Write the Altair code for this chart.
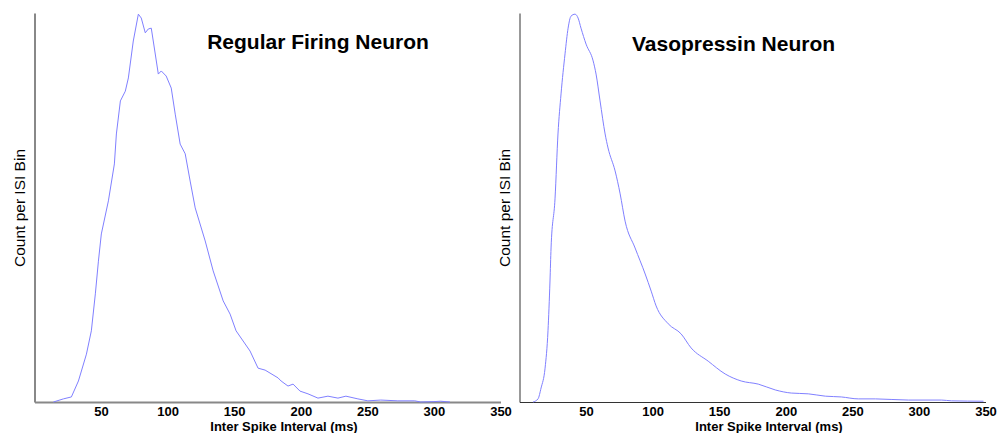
import altair as alt
import pandas as pd

# Regular firing neuron ISI histogram (ms, relative count)
reg_x = [14.2, 21.7, 27.7, 33.0, 39.0, 42.7, 45.7, 48.0, 50.2, 55.5, 60.0, 61.5, 64.5, 68.2, 70.5,
         74.2, 78.0, 80.2, 83.2, 85.5, 87.7, 90.0, 93.0, 95.2, 98.9, 102.7, 105.7, 109.4, 113.2,
         116.9, 120.7, 128.2, 134.2, 141.7, 146.9, 151.4, 161.9, 167.9, 173.2, 182.9, 185.2,
         190.4, 194.2, 199.4, 205.4, 212.9, 220.4, 227.9, 233.9, 242.9, 250.4, 260.1, 272.9,
         285.6, 290.1, 300.0, 305.0, 312.0]
reg_y = [0.0, 0.8, 1.3, 5.4, 12.3, 18.3, 27.8, 36.2, 43.2, 51.7, 61.2, 68.9, 77.4, 79.9, 83.3,
         92.8, 99.7, 98.7, 94.9, 95.9, 96.1, 91.0, 84.3, 85.1, 83.8, 80.7, 74.0, 66.3, 63.8,
         56.8, 49.9, 41.4, 33.7, 26.0, 22.6, 18.3, 13.1, 8.7, 8.2, 6.2, 5.4,
         4.1, 4.6, 2.8, 2.1, 1.0, 1.5, 1.0, 1.5, 0.8, 0.3, 0.5, 0.3,
         0.3, 0.0, 0.1, 0.2, 0.0]

# Vasopressin neuron ISI histogram
vp_x = [10.2, 13.9, 16.2, 19.2, 21.4, 22.9, 23.7, 26.7, 28.9, 31.2, 34.2, 36.5, 38.7, 41.7, 44.0,
        46.2, 50.0, 55.3, 57.5, 60.5, 64.3, 66.5, 71.8, 75.6, 79.3, 86.8, 94.4, 98.9, 102.6,
        111.7, 121.4, 128.9, 141.7, 154.5, 166.5, 179.3, 192.1, 204.1, 216.9, 229.7, 241.7,
        254.5, 267.3, 292.1, 316.9, 324.4, 348.5]
vp_y = [0.0, 0.8, 3.6, 8.7, 18.3, 31.1, 39.6, 52.4, 68.9, 79.2, 89.5, 96.1, 99.2, 99.7, 98.7,
        96.1, 92.0, 87.7, 84.3, 77.4, 68.9, 65.3, 59.4, 53.5, 46.5, 39.6, 32.9, 28.5, 24.7,
        20.1, 17.5, 13.9, 10.5, 7.2, 5.4, 4.6, 3.1, 2.3, 2.1, 1.5, 1.3,
        0.8, 0.8, 0.5, 0.5, 0.3, 0.2]

titles = ["Regular Firing Neuron", "Vasopressin Neuron"]
x_ticks = [50, 100, 150, 200, 250, 300, 350]

FONT = "Liberation Sans"
LINE = "#8080ff"


def panel(xs, ys, title, axis_color, axis_width, tx, ty, interp):
    df = pd.DataFrame({"isi": xs, "count": ys})
    line = alt.Chart(df).mark_line(color=LINE, strokeWidth=1, interpolate=interp).encode(
        x=alt.X("isi:Q", scale=alt.Scale(domain=[0, 350], nice=False),
                axis=alt.Axis(values=x_ticks, title="Inter Spike Interval (ms)", grid=False,
                              ticks=False, labelFlush=False, labelFont=FONT, labelFontSize=13,
                              labelFontWeight="bold", labelColor="#000", labelPadding=3,
                              titleFont=FONT, titleFontSize=13, titleFontWeight="bold",
                              titleColor="#000", titlePadding=2, titleX=249,
                              domainColor=axis_color, domainWidth=axis_width)),
        y=alt.Y("count:Q", scale=alt.Scale(domain=[0, 100], nice=False),
                axis=alt.Axis(labels=False, ticks=False, grid=False, title="Count per ISI Bin",
                              titleFont=FONT, titleFontSize=15.5, titleFontWeight="normal",
                              titleColor="#000", titlePadding=7,
                              domainColor=axis_color, domainWidth=axis_width)),
    )
    txt = alt.Chart(pd.DataFrame({"t": [title]})).mark_text(
        font=FONT, fontSize=21, fontWeight="bold", color="#000", align="center",
        baseline="alphabetic"
    ).encode(text="t:N", x=alt.value(tx), y=alt.value(ty))
    return alt.layer(line, txt).properties(width=466, height=389)


left = panel(reg_x, reg_y, titles[0], "#888888", 2, 283.5, 36, "linear")
right = panel(vp_x, vp_y, titles[1], "#333333", 1, 214, 38, "monotone")

chart = alt.hconcat(left, right, spacing=19, bounds="flush").properties(
    padding={"left": 12.5, "top": 12, "right": 0, "bottom": 0},
    background="#ffffff",
).configure_view(stroke=None)

chart.save("out.html", embed_options={"renderer": "svg", "actions": False})
